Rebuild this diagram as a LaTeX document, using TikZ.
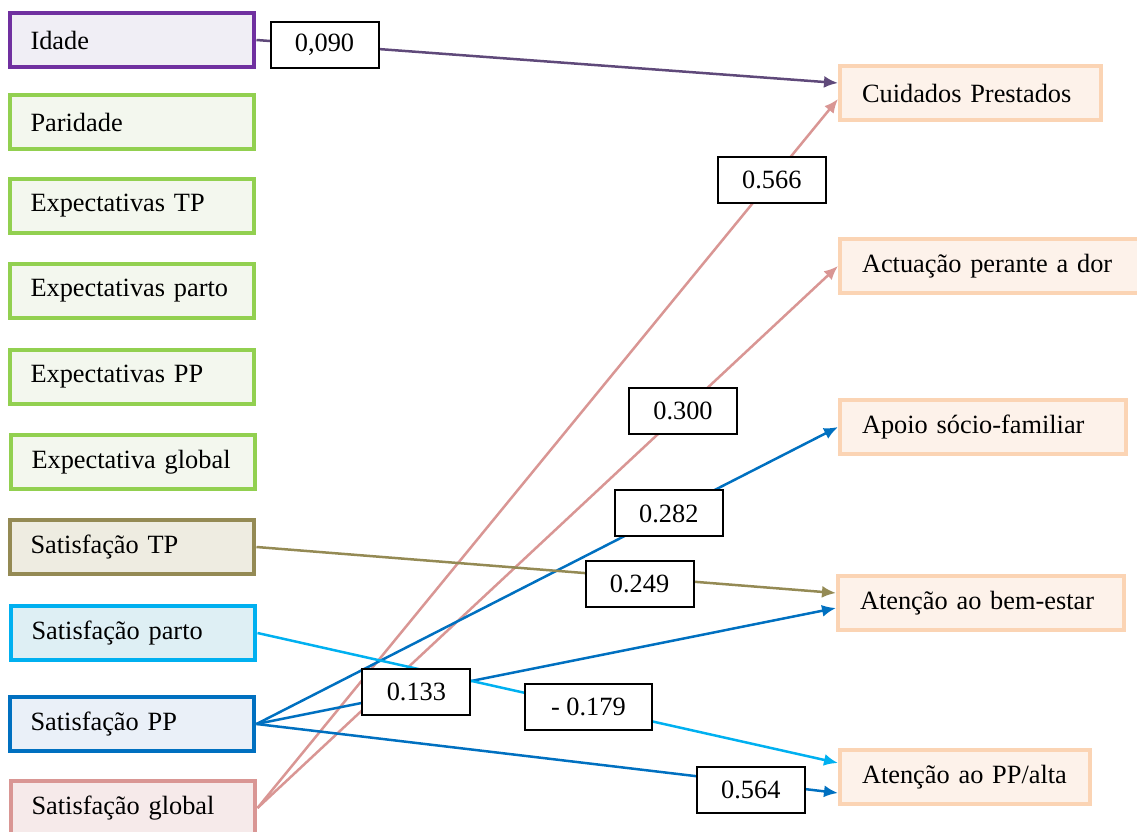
\documentclass[tikz,border=0pt]{standalone}
\usepackage{fontspec}
\setmainfont{Liberation Serif}
\usepackage{tikz}
\usetikzlibrary{arrows.meta}
\definecolor{roxo}{HTML}{7030A0}
\definecolor{roxof}{HTML}{F0EEF5}
\definecolor{roxol}{HTML}{5F497A}
\definecolor{verde}{HTML}{92D050}
\definecolor{verdef}{HTML}{F3F7EE}
\definecolor{oliva}{HTML}{948A54}
\definecolor{olivaf}{HTML}{EEECE1}
\definecolor{ciano}{HTML}{00B0F0}
\definecolor{cianof}{HTML}{DEEFF4}
\definecolor{azul}{HTML}{0070C0}
\definecolor{azulf}{HTML}{EAF0F8}
\definecolor{rosa}{HTML}{D99694}
\definecolor{rosaf}{HTML}{F6EAEA}
\definecolor{pessego}{HTML}{FBD4B4}
\definecolor{pessegof}{HTML}{FDF2EA}
\tikzset{
caixa/.style={draw, line width=0.08cm, text width=4.06cm, inner xsep=0.42cm, minimum height=1.08cm, align=left},
resp/.style={draw=pessego, fill=pessegof, line width=0.08cm, inner xsep=0.44cm, minimum height=1.08cm, align=left, anchor=west},
coef/.style={draw=black, fill=white, line width=0.04cm, minimum width=2.16cm, minimum height=0.92cm, inner sep=0pt},
seta/.style={line width=0.05cm, -{Latex[length=0.28cm,width=0.24cm]}}
}

\begin{document}
\begin{tikzpicture}[x=0.02cm, y=-0.02cm, font=\fontsize{15}{18}\selectfont]
\useasboundingbox (0,0) rectangle (1137,832);
% preditores
\foreach \n/\x/\y/\c/\f/\t in {
idade/132/40/roxo/roxof/Idade,
parid/132/122/verde/verdef/Paridade,
exptp/132/206/verde/verdef/Expectativas TP,
exppart/132/291/verde/verdef/Expectativas parto,
exppp/132/377/verde/verdef/Expectativas PP,
expglob/133/462/verde/verdef/Expectativa global,
sattp/132/547/oliva/olivaf/Satisfação TP,
satpart/133/633/ciano/cianof/Satisfação parto,
satpp/132/724/azul/azulf/Satisfação PP,
satglob/133/808/rosa/rosaf/Satisfação global
}{
\node[caixa, draw=\c, fill=\f] (\n) at (\x,\y) {\t};
}
% dimensoes
\node[resp, text width=4.34cm] (cuid) at (838,93) {Cuidados Prestados};
\node[resp, text width=5.22cm] (actu) at (838,266) {Actuação perante a dor};
\node[resp, text width=4.84cm] (apoio) at (838,427) {Apoio sócio-familiar};
\node[resp, text width=4.84cm] (bemest) at (836,603) {Atenção ao bem-estar};
\node[resp, text width=4.12cm] (ppalta) at (838,777) {Atenção ao PP/alta};
% setas
\draw[seta, roxol] (idade.east) -- coordinate[pos=0.117] (k090) ([yshift=0.2cm]cuid.west);
\draw[seta, rosa] (satglob.east) -- coordinate[pos=0.886] (k566) ([yshift=-0.12cm]cuid.west);
\draw[seta, rosa] (satglob.east) -- coordinate[pos=0.733] (k300) (actu.west);
\draw[seta, azul] (satpp.east) -- coordinate[pos=0.709] (k282) (apoio.west);
\draw[seta, oliva] (sattp.east) -- coordinate[pos=0.661] (k249) ([yshift=0.2cm]bemest.west);
\draw[seta, azul] (satpp.east) -- coordinate[pos=0.276] (k133) ([yshift=-0.1cm]bemest.west);
\draw[seta, ciano] (satpart.east) -- coordinate[pos=0.570] (k179) ([yshift=0.28cm]ppalta.west);
\draw[seta, azul] (satpp.east) -- coordinate[pos=0.850] (k564) ([yshift=-0.32cm]ppalta.west);
% coeficientes
\node[coef] (c090) at (k090) {0,090};
\node[coef] (c566) at (k566) {0.566};
\node[coef] (c300) at (k300) {0.300};
\node[coef] (c282) at (k282) {0.282};
\node[coef, yshift=-0.14cm] (c249) at (k249) {0.249};
\node[coef] (c133) at (k133) {0.133};
\node[coef, minimum width=2.54cm] (c179) at (k179) {- 0.179};
\node[coef, yshift=-0.14cm] (c564) at (k564) {0.564};
\end{tikzpicture}
\end{document}
